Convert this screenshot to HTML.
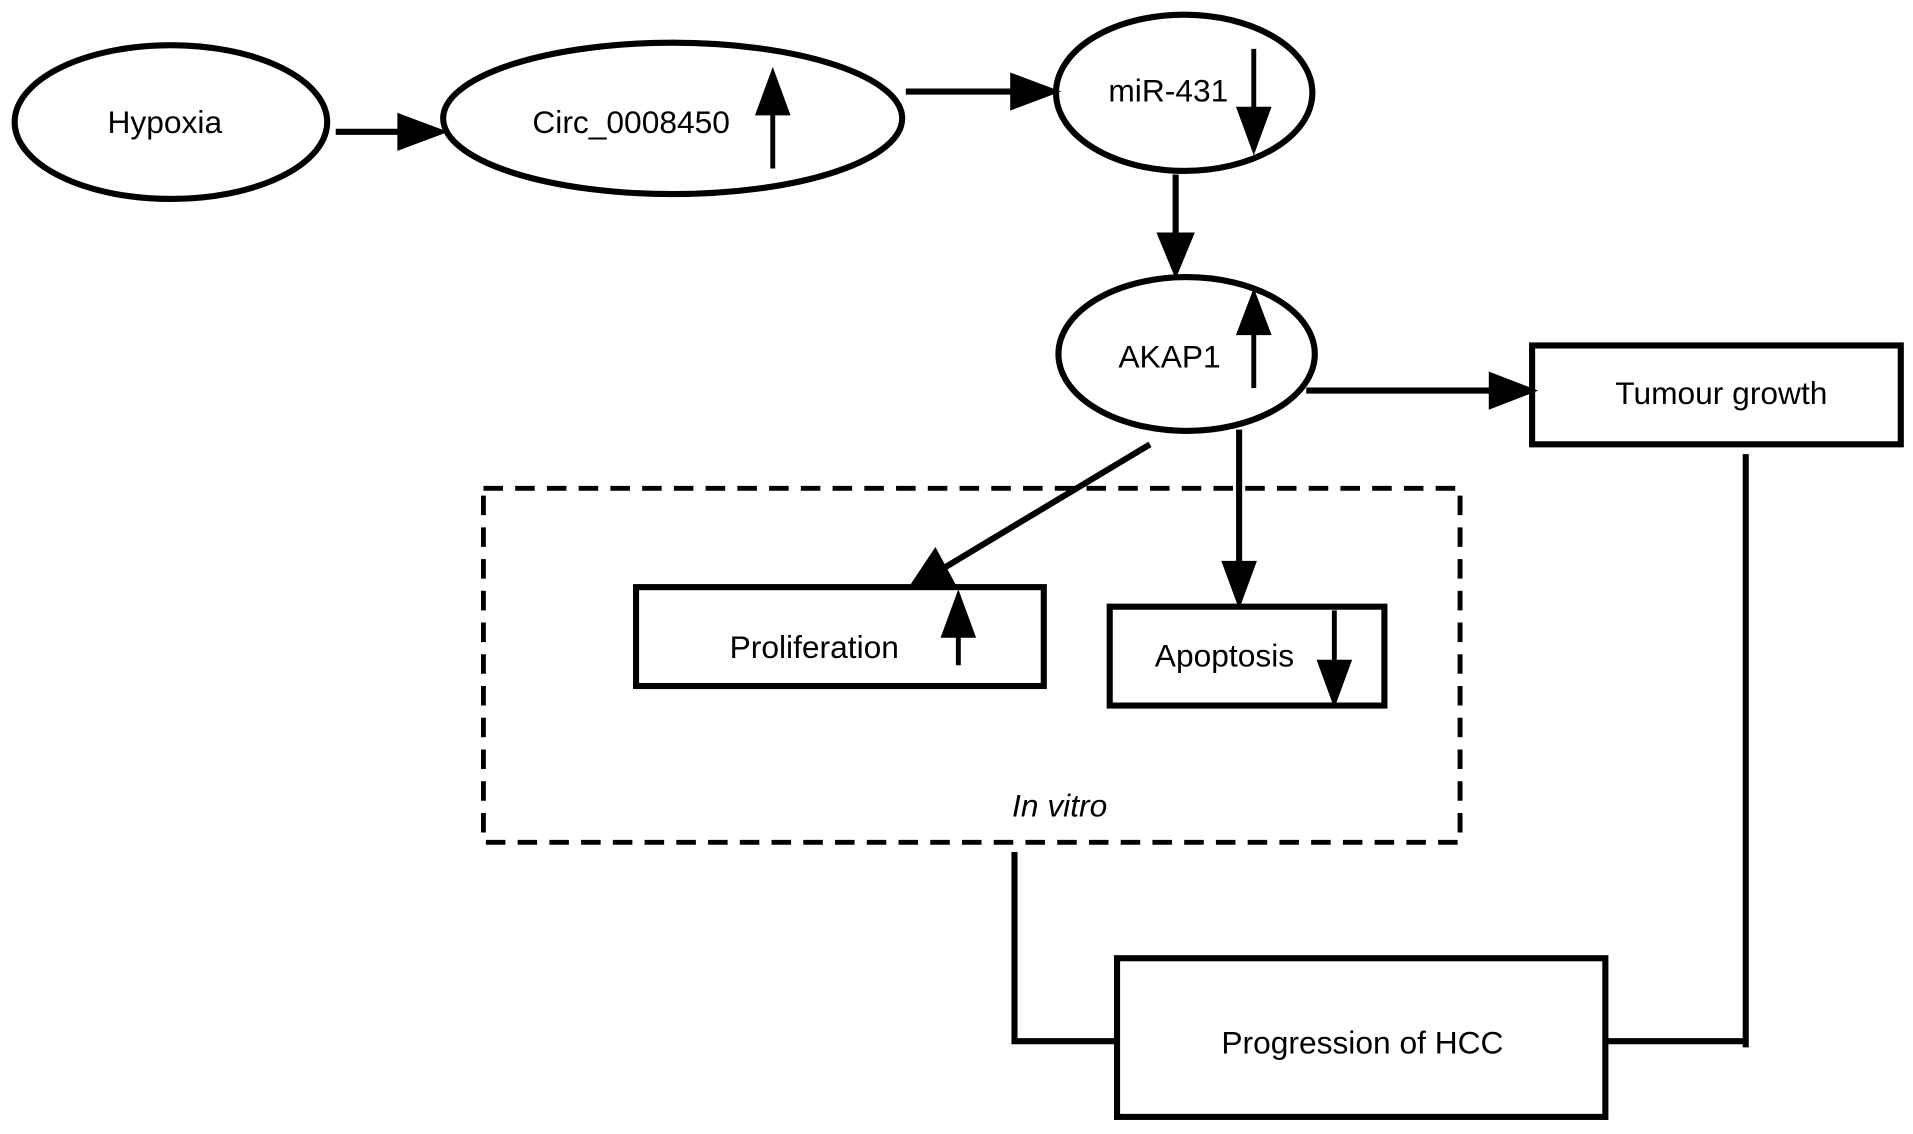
<!DOCTYPE html>
<html><head><style>html,body{margin:0;padding:0;background:#fff;overflow:hidden}svg{display:block}</style></head>
<body>
<svg width="1913" height="1134" viewBox="0 0 1567 929" preserveAspectRatio="none" xmlns="http://www.w3.org/2000/svg">
<g fill="none" stroke="#000" stroke-width="5">
<ellipse cx="140" cy="100" rx="128" ry="63"/>
<ellipse cx="551" cy="97" rx="188" ry="62"/>
<ellipse cx="970" cy="76" rx="105" ry="64"/>
<ellipse cx="972" cy="290" rx="105" ry="63"/>
<rect x="1255" y="283" width="302" height="81"/>
<rect x="521" y="481" width="334" height="81"/>
<rect x="909" y="497" width="225" height="81"/>
<rect x="915" y="785" width="400" height="130"/>
<rect x="396" y="400" width="800" height="290" stroke-width="4" stroke-dasharray="16,10"/>
<path d="M1430,372 V858 M1315,853 H1430 M831,698 V853 H915"/>
</g>
<g stroke="#000" fill="#000" stroke-width="5">
<line x1="275" y1="108" x2="330" y2="108"/><path d="M328,96 L360,108 L328,120z"/>
<line x1="742" y1="75" x2="832" y2="75"/><path d="M830,63 L862,75 L830,87z" />
<line x1="963" y1="143" x2="963" y2="195"/><path d="M951,193 L963,222 L975,193z"/>
<line x1="1070" y1="320" x2="1225" y2="320"/><path d="M1222,308 L1253,320 L1222,332z"/>
<line x1="1015" y1="352" x2="1015" y2="465"/><path d="M1004,462 L1015,492 L1026,462z"/>
<line x1="942" y1="364" x2="772" y2="466"/><path d="M766,453 L748,480 L779,477z"/>
<line x1="633" y1="138" x2="633" y2="90" stroke-width="4"/><path d="M622,92 L633,62 L644,92z"/>
<line x1="1027" y1="318" x2="1027" y2="270" stroke-width="4"/><path d="M1016,272 L1027,243 L1038,272z"/>
<line x1="1027" y1="40" x2="1027" y2="92" stroke-width="4"/><path d="M1016,90 L1027,120 L1038,90z"/>
<line x1="785" y1="545" x2="785" y2="518" stroke-width="4"/><path d="M774,520 L785,490 L796,520z"/>
<line x1="1093" y1="500" x2="1093" y2="545" stroke-width="4"/><path d="M1082,543 L1093,573 L1104,543z"/>
</g>
<g font-family="Liberation Sans, sans-serif" font-size="26" text-anchor="middle" fill="#000">
<text x="135" y="109">Hypoxia</text>
<text x="517" y="109">Circ_0008450</text>
<text x="957" y="83">miR-431</text>
<text x="958" y="301">AKAP1</text>
<text x="1410" y="331">Tumour growth</text>
<text x="667" y="539">Proliferation</text>
<text x="1003" y="546">Apoptosis</text>
<text x="868" y="669" font-style="italic">In vitro</text>
<text x="1116" y="863">Progression of HCC</text>
</g>
</svg>
</body></html>
